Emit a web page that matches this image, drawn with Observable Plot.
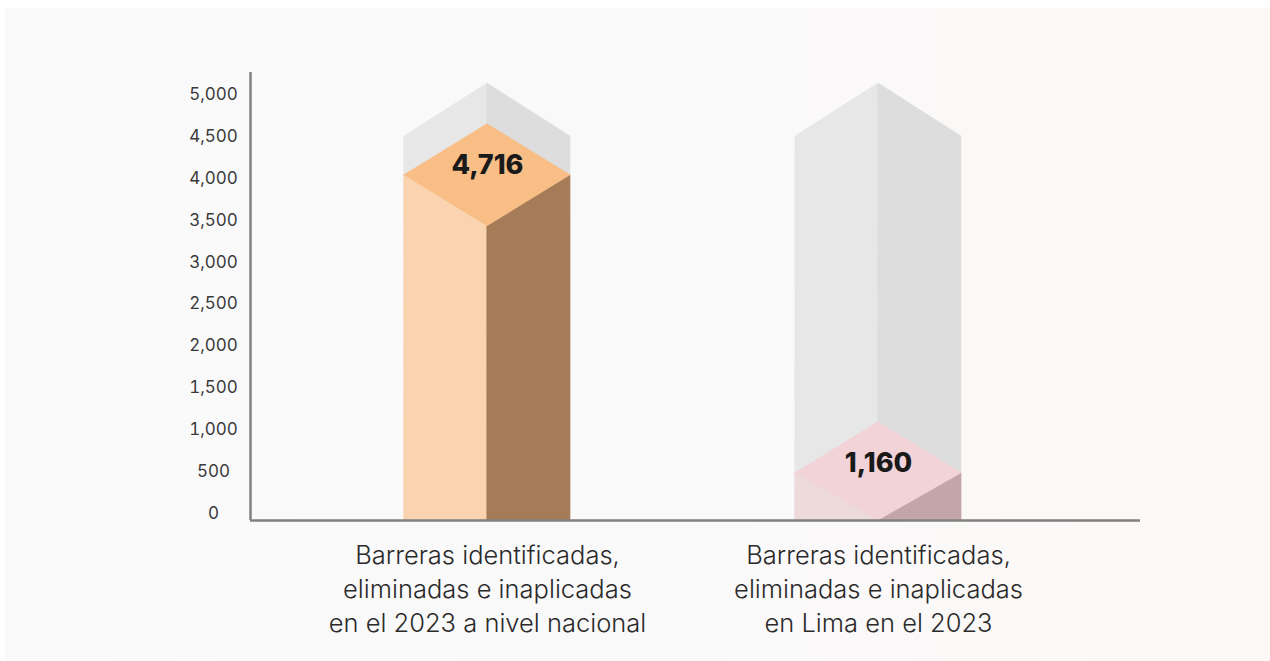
<!DOCTYPE html>
<html>
<head>
<meta charset="utf-8">
<script src="https://cdn.jsdelivr.net/npm/d3@7"></script>
<script src="https://cdn.jsdelivr.net/npm/@observablehq/plot@0.6"></script>
<style>
  html, body { margin: 0; padding: 0; width: 1270px; height: 661px; overflow: hidden; background: #ffffff; }
  #panel { position: absolute; left: 5px; top: 8px; right: 0; bottom: 0;
           background: linear-gradient(90deg, #fbfafb 0%, #faf9fa 50%, #fcf8f6 100%); }
  #chart { position: absolute; left: 0; top: 0; }
</style>
</head>
<body>
<div id="panel"></div>
<div id="chart"></div>
<script>
// ---- data ----
const categories = [
  "Barreras identificadas,\neliminadas e inaplicadas\nen el 2023 a nivel nacional",
  "Barreras identificadas,\neliminadas e inaplicadas\nen Lima en el 2023"
];
const values = [4716, 1160];
const backdropMax = 5000;
const yTicks = [0, 500, 1000, 1500, 2000, 2500, 3000, 3500, 4000, 4500, 5000];

// ---- styles ----
const leftColors  = ["#fad4b0", "#eddada"];
const rightColors = ["#a57c57", "#c4a6a9"];
const topColors   = ["#f8be86", "#f2d3d7"];
const grayLeft = "#e7e7e7";
const grayRight = "#dddddd";
const axisColor = "#808080";
const font = "Inter, 'Noto Sans', sans-serif";

// ---- layout (scale set-up) ----
const W = 1270, H = 661;
const mL = 250, mR = 130, mT = 72, mB = 141;
const xDomain = [-0.606, 1.67];
const yDomain = [0, 5346];
const uy = (yDomain[1] - yDomain[0]) / (H - mT - mB);   // value units per px
const ux = (xDomain[1] - xDomain[0]) / (W - mL - mR);   // x units per px
const half = 83 * ux;

function poly(xs, y1s, y2s, fill) {
  const d = xs.map((x, i) => ({x, y1: y1s[i], y2: y2s[i]}));
  return Plot.areaY(d, {x: "x", y1: "y1", y2: "y2", fill, stroke: fill, strokeWidth: 0.6, curve: "linear"});
}

const marks = [];
values.forEach((v, i) => {
  const xL = i - half, xC = i, xR = i + half;
  // grey backdrop prism
  const gTop = backdropMax + 18 * uy, gSide = backdropMax - 35 * uy;
  marks.push(poly([xL, xC], [0, 0], [gSide, gTop], grayLeft));
  marks.push(poly([xC, xR], [0, 0], [gTop, gSide], grayRight));
  // coloured prism
  const top = v + 1 * uy, side = v - 50 * uy, bottom = Math.max(0, v - 101 * uy);
  marks.push(poly([xL, xC], [0, 0], [side, bottom], leftColors[i]));
  marks.push(poly([xC, xR], [0, 0], [bottom, side], rightColors[i]));
  marks.push(poly([xL, xC, xR], [side, bottom, side], [side, top, side], topColors[i]));
});

const labelData = values.map((v, i) => ({i, v, cat: categories[i], ly: v - 40 * uy}));

const chart = Plot.plot({
  width: W, height: H,
  marginLeft: mL, marginRight: mR, marginTop: mT, marginBottom: mB,
  style: {background: "transparent", fontFamily: font},
  x: {domain: xDomain, axis: null},
  y: {domain: yDomain},
  marks: [
    ...marks,
    Plot.text(labelData, {x: "i", y: "ly", text: d => d3.format(",")(d.v),
      fontSize: 27, fontWeight: 800, fill: "#1a1a1a"}),
    Plot.text(labelData, {x: "i", y: 0, text: "cat", lineAnchor: "top", dy: 19,
      fontSize: 25.5, fontWeight: 300, lineHeight: 1.333, fill: "#2a2a2a"}),
    Plot.axisY({ticks: yTicks, tickSize: 0, tickPadding: 37, textAnchor: "middle",
      tickFormat: d3.format(","), fontSize: 17, fill: "#3a3a3a", dy: -7, label: null}),
    Plot.ruleX([xDomain[0]], {y1: yDomain[0], y2: yDomain[1], stroke: axisColor, strokeWidth: 2.5}),
    Plot.ruleY([0], {x1: xDomain[0], x2: xDomain[1], stroke: axisColor, strokeWidth: 2.5})
  ]
});
document.getElementById("chart").appendChild(chart);
</script>
</body>
</html>
